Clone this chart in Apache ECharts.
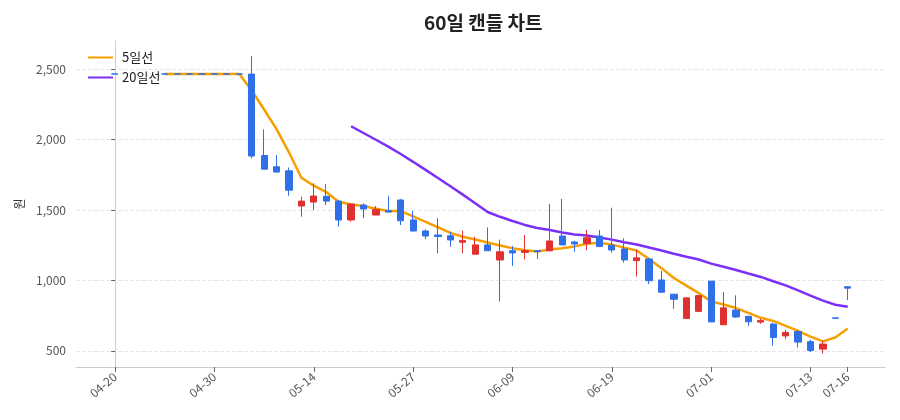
<!DOCTYPE html>
<html>
<head>
<meta charset="utf-8">
<title>60일 캔들 차트</title>
<script src="https://cdn.jsdelivr.net/npm/echarts@6/dist/echarts.min.js"></script>
<style>
html,body{margin:0;padding:0;background:#fff;}
#chart{width:900px;height:420px;}
</style>
</head>
<body>
<div id="chart"></div>
<script>
var dates = ['04-20','04-21','04-22','04-23','04-24','04-27','04-28','04-29','04-30',
	'05-04','05-06','05-07','05-08','05-11','05-12','05-13','05-14',
	'05-15','05-18','05-19','05-20','05-21','05-22','05-26','05-27',
	'05-28','05-29','06-01','06-02','06-04','06-05','06-08','06-09',
	'06-10','06-11','06-12','06-15','06-16','06-17','06-18','06-19',
	'06-22','06-23','06-24','06-25','06-26','06-29','06-30','07-01',
	'07-02','07-03','07-06','07-07','07-08','07-09','07-10','07-13',
	'07-14','07-15','07-16'];
var openArr = [2466,2466,2466,2466,2466,2466,2466,2466,2466,2466,2466,
	2465,1887,1807,1778,1528,1556,1597,1563,1429,1535,1464,1495,1571,1429,
	1351,1322,1317,1271,1186,1252,1145,1211,1199,1211,1210,1315,1273,1263,1315,
	1250,1223,1140,1152,1003,902,730,780,995,685,789,745,704,690,606,
	637,565,512,734,955];
var closeArr = [2465,2465,2465,2465,2465,2465,2465,2465,2465,2465,2465,
	1883,1790,1769,1641,1563,1599,1563,1429,1542,1507,1504,1485,1424,1351,
	1315,1312,1287,1284,1252,1211,1203,1195,1211,1205,1280,1252,1259,1303,1240,
	1216,1145,1160,998,916,866,876,892,705,805,740,706,716,594,630,
	562,502,548,731,945];
var lowArr = [2465,2465,2465,2465,2465,2465,2465,2465,2465,2465,2465,
	1866,1790,1769,1601,1452,1500,1535,1381,1417,1441,1464,1483,1393,1346,
	1294,1193,1240,1193,1186,1211,850,1103,1150,1152,1210,1252,1204,1214,1240,
	1197,1126,1027,973,916,798,730,780,705,685,735,677,692,536,584,
	524,490,481,731,860];
var highArr = [2466,2466,2466,2466,2466,2466,2466,2466,2466,2466,2466,
	2592,2072,1890,1802,1594,1689,1684,1571,1550,1547,1528,1601,1578,1493,
	1362,1441,1346,1353,1310,1376,1290,1245,1322,1213,1542,1578,1282,1358,1358,
	1516,1299,1216,1160,1067,902,876,892,995,918,894,748,728,700,647,
	649,578,572,734,957];
var ma5Arr = [null,null,null,null,2465,2465,2465,2465,2465,2465,2465,
	2348.6,2213.6,2074.4,1909.6,1729.2,1672.4,1627,1559,1539.2,1528,1509,1493.4,1492.4,1454.2,
	1415.8,1377.4,1337.8,1309.8,1290,1269.2,1247.4,1229,1214.4,1205,1218.8,1228.6,1241.4,1259.8,1266.8,
	1254,1232.6,1212.8,1151.8,1087,1017,963.2,909.6,851,828.8,803.6,769.6,734.4,712.2,677.2,
	641.6,600.8,567.2,594.8,657.8];
var ma20Arr = [null,null,null,null,null,null,null,null,null,null,
	null,null,null,null,null,null,null,null,null,2094.7,
	2046.8,1998.8,1949.8,1897.7,1842,1784.5,1726.9,1668,1608.9,1548.3,
	1485.6,1451.6,1421.8,1393.9,1372.1,1358,1340.6,1325.4,1319.1,1304,
	1289.5,1271.5,1255.3,1234,1212.2,1189.8,1168,1148.2,1119.3,1096.9,
	1073.4,1048.5,1024.6,993.7,965,929.1,891.6,856,827.5,812.7];
// 라벨 표시할 위치 (8거래일 간격 + 마지막 날)
var labelIdx = [0,8,16,24,32,40,48,56,59];

var fontName = 'Noto Sans CJK KR';

var drawCandle = function(dom){
	dom.innerHTML = '';
	var myChart = echarts.init(dom);
	var candleData = [];
	var ma5Data = [];
	var ma20Data = [];
	for(var i = 0;i < dates.length;i++){
		candleData.push([i, openArr[i], closeArr[i], lowArr[i], highArr[i]]);
		if(ma5Arr[i] != null) ma5Data.push([i, ma5Arr[i]]);
		if(ma20Arr[i] != null) ma20Data.push([i, ma20Arr[i]]);
	}

	var option = {
		animation: false,
		textStyle: { fontFamily: fontName },
		title: {
			text: '60일 캔들 차트',
			left: 419,
			top: 8,
			textStyle: { fontFamily: fontName, fontSize: 19, fontWeight: 'bold', color: '#222' }
		},
		legend: {
			data: ['5일선', '20일선'],
			orient: 'vertical',
			left: 82,
			top: 46,
			itemGap: 7,
			itemWidth: 25,
			itemHeight: 14,
			itemStyle: { opacity: 0 },
			textStyle: { fontFamily: fontName, fontSize: 13, color: '#222', backgroundColor: '#fff', padding: [0, 0, 0, 4] }
		},
		grid: { left: 76, right: 15, top: 41, bottom: 53 },
		xAxis: {
			type: 'value',
			min: -3.15,
			max: 62,
			axisLine: { lineStyle: { color: '#ccc' } },
			axisTick: { customValues: labelIdx, length: 5, lineStyle: { color: '#666' } },
			axisLabel: {
				customValues: labelIdx,
				rotate: 40,
				color: '#555',
				fontSize: 12,
				fontFamily: fontName,
				formatter: function(v){ return dates[v]; }
			},
			splitLine: { show: false }
		},
		yAxis: {
			type: 'value',
			min: 385,
			max: 2700,
			name: '원',
			nameLocation: 'middle',
			nameGap: 50,
			nameTextStyle: { fontFamily: fontName, fontSize: 12, color: '#333' },
			axisLine: { show: true, lineStyle: { color: '#ccc' } },
			axisTick: { show: true, length: 4, lineStyle: { color: '#666' } },
			axisLabel: {
				color: '#555',
				fontSize: 12,
				margin: 10,
				fontFamily: fontName,
				showMinLabel: false,
				showMaxLabel: false,
				formatter: function(v){ return v.toLocaleString('en-US'); }
			},
			splitLine: { showMinLine: false, showMaxLine: false, lineStyle: { type: 'dashed', color: '#e6e6e6' } }
		},
		series: [
			{
				name: '5일선',
				type: 'line',
				data: ma5Data,
				symbol: 'none',
				color: '#f59f00',
				lineStyle: { width: 2.5, color: '#f59f00' }
			},
			{
				name: '20일선',
				type: 'line',
				data: ma20Data,
				symbol: 'none',
				color: '#7b2ff7',
				lineStyle: { width: 2.5, color: '#7b2ff7' }
			},
			{
				name: '캔들',
				type: 'candlestick',
				data: candleData,
				z: 3,
				itemStyle: {
					color: '#e03131',
					color0: '#2f6fe8',
					borderColor: '#e03131',
					borderColor0: '#2f6fe8',
					borderWidth: 1
				}
			}
		]
	};

	myChart.setOption(option);
	window.addEventListener("resize",function(){
		myChart.resize();
	});
}

drawCandle(document.getElementById('chart'));
</script>
</body>
</html>
